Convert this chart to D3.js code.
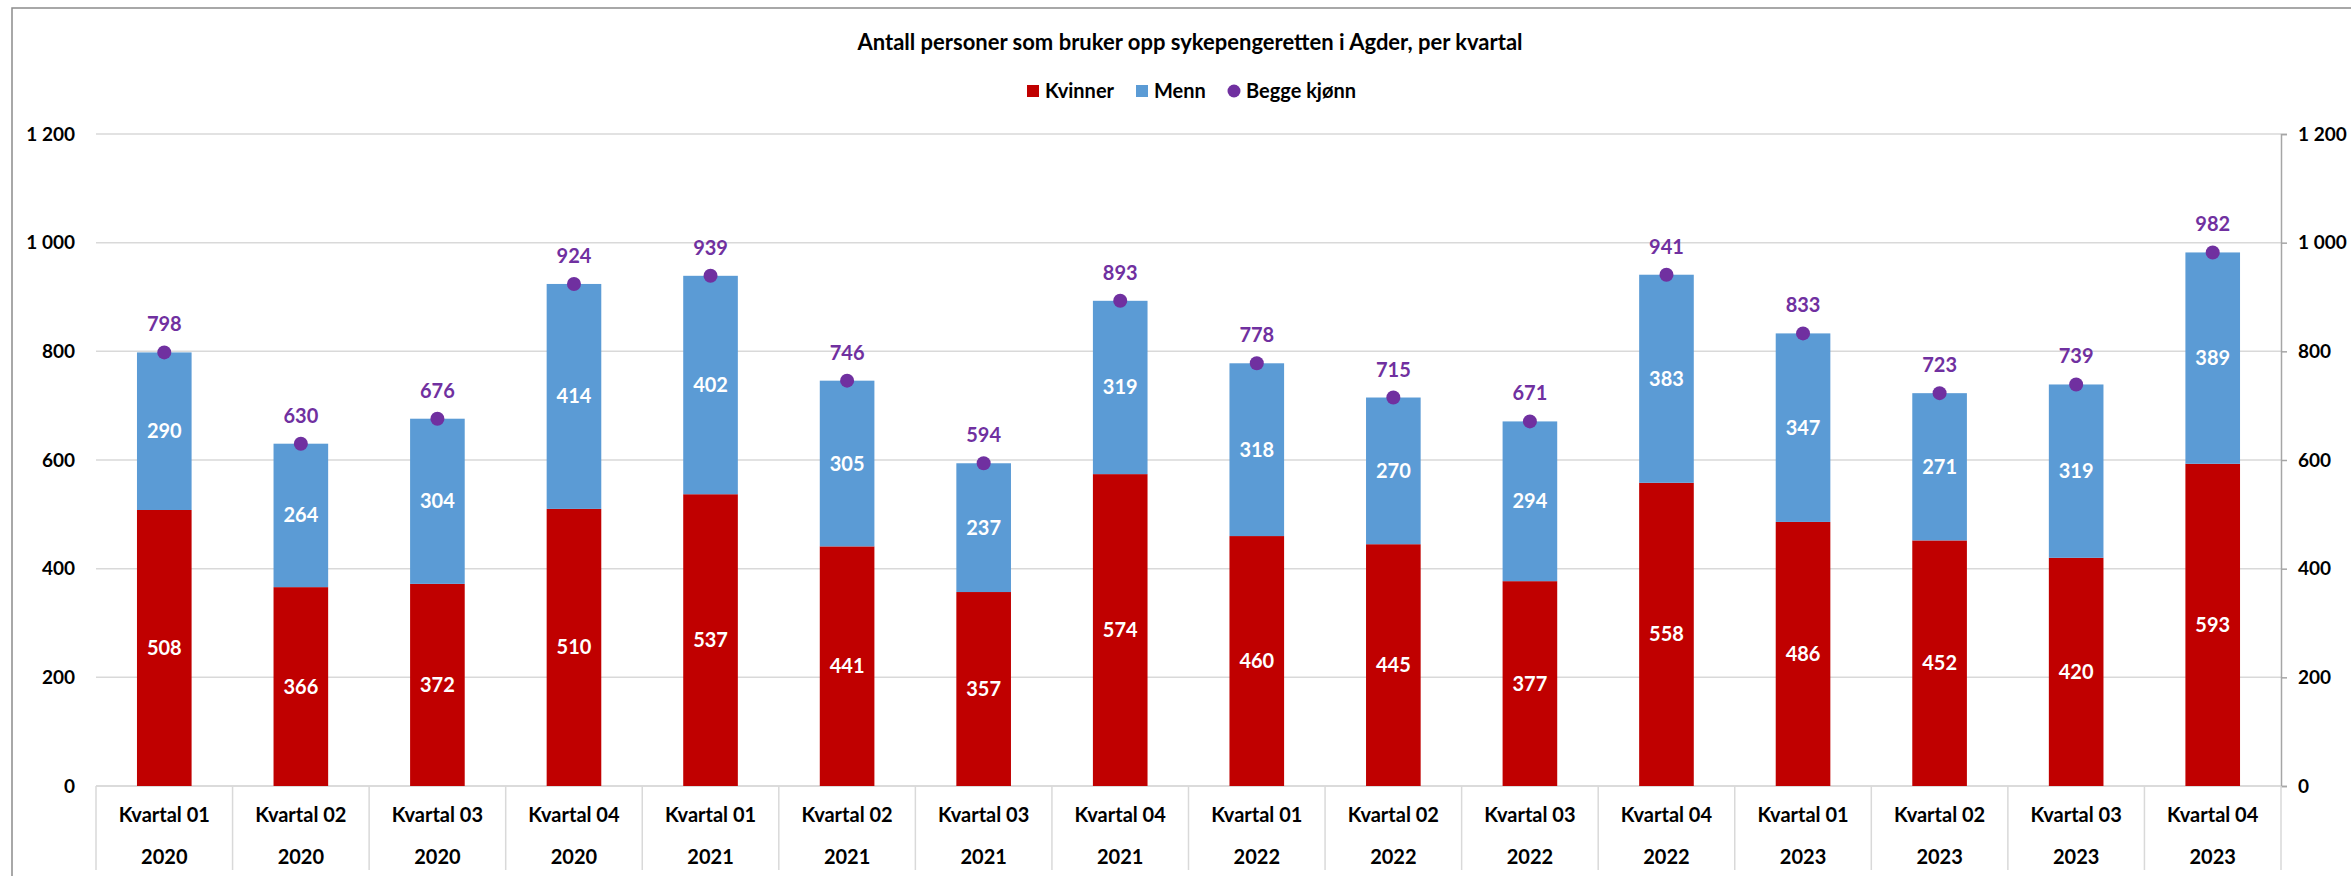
<!DOCTYPE html>
<html>
<head>
<meta charset="utf-8">
<script src="https://cdn.jsdelivr.net/npm/d3@7"></script>
<style>
  body { margin: 0; background: #fff; }
  svg text { font-family: Lato, "Open Sans", sans-serif; font-weight: bold; }
</style>
</head>
<body>
<div id="chart"></div>
<script>
// kvartal + år (to nivåer på x-aksen)
const quarters = ["Kvartal 01", "Kvartal 02", "Kvartal 03", "Kvartal 04",
                  "Kvartal 01", "Kvartal 02", "Kvartal 03", "Kvartal 04",
                  "Kvartal 01", "Kvartal 02", "Kvartal 03", "Kvartal 04",
                  "Kvartal 01", "Kvartal 02", "Kvartal 03", "Kvartal 04"];
const years = ["2020", "2020", "2020", "2020", "2021", "2021", "2021", "2021",
               "2022", "2022", "2022", "2022", "2023", "2023", "2023", "2023"];
const kvinner = [508, 366, 372, 510, 537, 441, 357, 574, 460, 445, 377, 558, 486, 452, 420, 593];
const menn = [290, 264, 304, 414, 402, 305, 237, 319, 318, 270, 294, 383, 347, 271, 319, 389];
const begge = [798, 630, 676, 924, 939, 746, 594, 893, 778, 715, 671, 941, 833, 723, 739, 982];
const yTicks = [0, 200, 400, 600, 800, 1000, 1200];

const title = "Antall personer som bruker opp sykepengeretten i Agder, per kvartal";

const width = 2351, height = 876;
const margin = {top: 134, right: 70, bottom: 90, left: 96};

const red = "#C00000", blue = "#5B9BD5", purple = "#7030A0";
const nb = d3.formatLocale({decimal: ",", thousands: "\u00a0", grouping: [3], currency: ["", " kr"]});
const fmt = nb.format(",d");

const svg = d3.select("#chart").append("svg")
    .attr("width", width)
    .attr("height", height);

// ramme rundt diagrammet
svg.append("rect")
    .attr("x", 12).attr("y", 8)
    .attr("width", width + 20).attr("height", height + 20)
    .attr("fill", "none")
    .attr("stroke", "#8c8c8c")
    .attr("stroke-width", 1.5);

const keys = d3.range(quarters.length);

const x = d3.scaleBand()
    .domain(keys)
    .range([margin.left, width - margin.right])
    .paddingInner(0.6)
    .paddingOuter(0.3);

const xCat = d3.scaleBand()
    .domain(keys)
    .range([margin.left, width - margin.right]);

const y = d3.scaleLinear()
    .domain([0, 1200])
    .range([height - margin.bottom, margin.top]);

// rutenett
svg.append("g")
    .selectAll("line")
    .data(yTicks)
    .join("line")
    .attr("x1", margin.left)
    .attr("x2", width - margin.right)
    .attr("y1", d => y(d))
    .attr("y2", d => y(d))
    .attr("stroke", "#d9d9d9")
    .attr("stroke-width", 1.5);

// venstre akse (bare tall)
const yLeft = d3.axisLeft(y).tickValues(yTicks).tickSize(0).tickPadding(21).tickFormat(fmt);
svg.append("g")
    .attr("transform", `translate(${margin.left},0)`)
    .call(yLeft)
    .call(g => g.select(".domain").remove())
    .selectAll("text")
    .attr("font-size", 19)
    .attr("fill", "#000");

// høyre akse med linje
const yRight = d3.axisRight(y).tickValues(yTicks).tickSize(6).tickPadding(11).tickFormat(fmt);
svg.append("g")
    .attr("transform", `translate(${width - margin.right},0)`)
    .call(yRight)
    .call(g => g.select(".domain").attr("stroke", "#a6a6a6").attr("stroke-width", 1.5))
    .call(g => g.selectAll(".tick line").attr("stroke", "#a6a6a6").attr("stroke-width", 1.5))
    .selectAll("text")
    .attr("font-size", 19)
    .attr("fill", "#000");

// kategoriakse med to nivåer
const catG = svg.append("g");
catG.append("line")
    .attr("x1", margin.left).attr("x2", width - margin.right)
    .attr("y1", y(0)).attr("y2", y(0))
    .attr("stroke", "#d9d9d9").attr("stroke-width", 1.5);
catG.selectAll("line.sep")
    .data(keys.concat([keys.length]))
    .join("line")
    .attr("class", "sep")
    .attr("x1", d => d < keys.length ? xCat(d) : xCat.range()[1])
    .attr("x2", d => d < keys.length ? xCat(d) : xCat.range()[1])
    .attr("y1", y(0))
    .attr("y2", y(0) + 84)
    .attr("stroke", "#d9d9d9").attr("stroke-width", 1.5);
catG.selectAll("text.q")
    .data(keys)
    .join("text")
    .attr("class", "q")
    .attr("x", d => xCat(d) + xCat.bandwidth() / 2)
    .attr("y", y(0) + 29)
    .attr("dy", "0.35em")
    .attr("text-anchor", "middle")
    .attr("font-size", 20)
    .text(d => quarters[d]);
catG.selectAll("text.yr")
    .data(keys)
    .join("text")
    .attr("class", "yr")
    .attr("x", d => xCat(d) + xCat.bandwidth() / 2)
    .attr("y", y(0) + 71)
    .attr("dy", "0.35em")
    .attr("text-anchor", "middle")
    .attr("font-size", 20)
    .text(d => years[d]);

// stablede søyler
const rows = keys.map(i => ({i: i, kvinner: kvinner[i], menn: menn[i]}));
const stack = d3.stack().keys(["kvinner", "menn"])(rows);
const colors = {kvinner: red, menn: blue};

const layers = svg.selectAll("g.layer")
    .data(stack)
    .join("g")
    .attr("class", "layer")
    .attr("fill", d => colors[d.key]);

layers.selectAll("rect")
    .data(d => d)
    .join("rect")
    .attr("x", d => x(d.data.i))
    .attr("width", x.bandwidth())
    .attr("y", d => y(d[1]))
    .attr("height", d => y(d[0]) - y(d[1]));

layers.selectAll("text")
    .data(d => d)
    .join("text")
    .attr("x", d => x(d.data.i) + x.bandwidth() / 2)
    .attr("y", d => y((d[0] + d[1]) / 2))
    .attr("dy", "0.35em")
    .attr("text-anchor", "middle")
    .attr("font-size", 20)
    .attr("fill", "#fff")
    .text(d => fmt(d[1] - d[0]));

// begge kjønn: punkt + etikett
svg.append("g")
    .selectAll("circle")
    .data(keys)
    .join("circle")
    .attr("cx", d => x(d) + x.bandwidth() / 2)
    .attr("cy", d => y(begge[d]))
    .attr("r", 7)
    .attr("fill", purple);

svg.append("g")
    .selectAll("text")
    .data(keys)
    .join("text")
    .attr("x", d => x(d) + x.bandwidth() / 2)
    .attr("y", d => y(begge[d]) - 28)
    .attr("dy", "0.35em")
    .attr("text-anchor", "middle")
    .attr("font-size", 20)
    .attr("fill", purple)
    .text(d => fmt(begge[d]));

// tittel
svg.append("text")
    .attr("x", 1190)
    .attr("y", 42)
    .attr("dy", "0.35em")
    .attr("text-anchor", "middle")
    .attr("font-size", 22)
    .text(title);

// tegnforklaring
const legendItems = [
    {label: "Kvinner", color: red, type: "rect", x: 1027},
    {label: "Menn", color: blue, type: "rect", x: 1136},
    {label: "Begge kjønn", color: purple, type: "circle", x: 1228}
];
const legend = svg.append("g").attr("transform", "translate(0,91)");
legendItems.forEach(item => {
    if (item.type === "rect") {
        legend.append("rect")
            .attr("x", item.x).attr("y", -6)
            .attr("width", 12).attr("height", 12)
            .attr("fill", item.color);
    } else {
        legend.append("circle")
            .attr("cx", item.x + 6).attr("cy", 0)
            .attr("r", 6.5)
            .attr("fill", item.color);
    }
    legend.append("text")
        .attr("x", item.x + 18)
        .attr("y", 0)
        .attr("dy", "0.35em")
        .attr("font-size", 20)
        .text(item.label);
});
</script>
</body>
</html>
